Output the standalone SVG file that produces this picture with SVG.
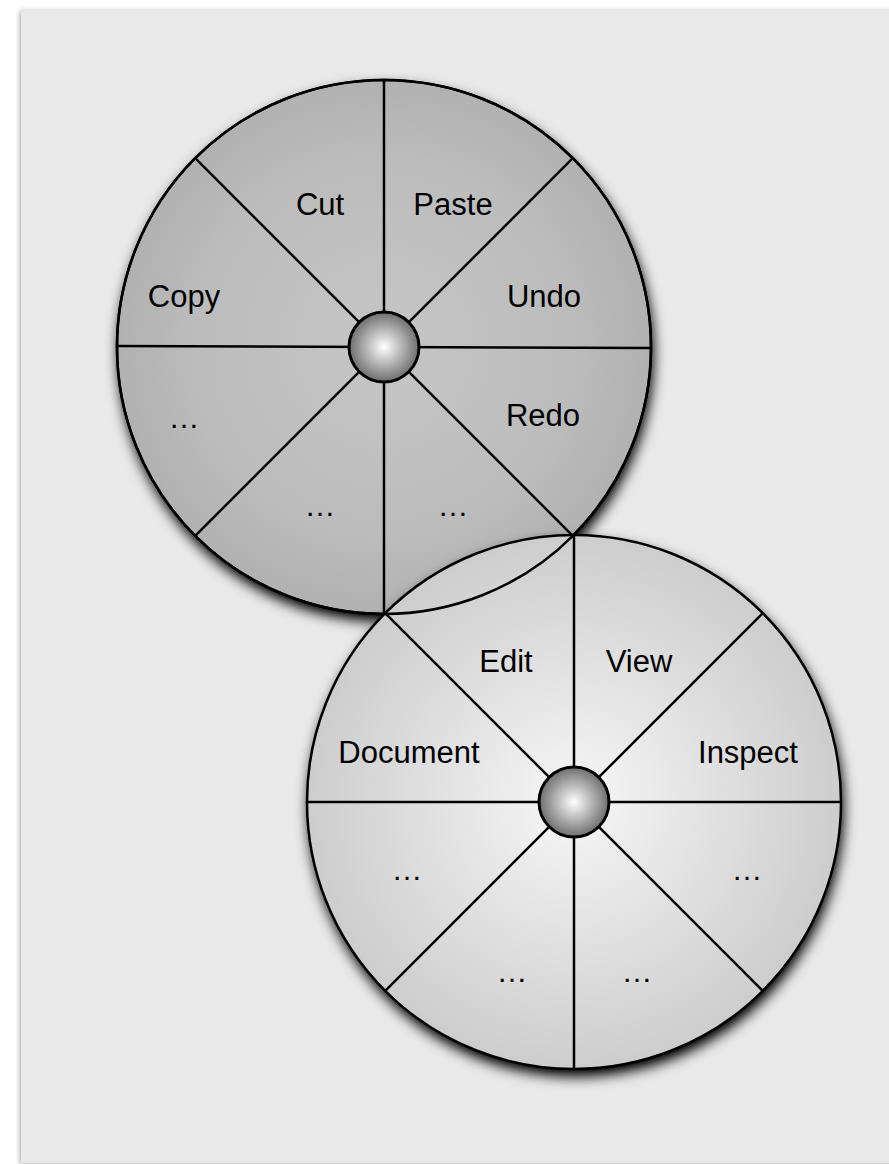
<svg xmlns="http://www.w3.org/2000/svg" width="889" height="1164" viewBox="0 0 889 1164">
  <style>
    .lbl { font-family: "Liberation Sans", Arial, Helvetica, sans-serif; font-size: 31px; fill: #000; text-anchor: middle; }
    .spoke { stroke: #000; stroke-width: 2.5; fill: none; }
    .rim { stroke: #000; stroke-width: 2.5; fill: none; }
    .hub { stroke: #000; stroke-width: 3; fill: url(#hubGrad); }
  </style>
  <defs>
    <filter id="panelShadow" x="-5%" y="-5%" width="110%" height="110%">
      <feDropShadow dx="-1" dy="1" stdDeviation="2.5" flood-color="#000" flood-opacity="0.35"/>
    </filter>
    <filter id="wheelShadow" x="-20%" y="-20%" width="140%" height="140%">
      <feGaussianBlur in="SourceAlpha" stdDeviation="7"/>
      <feOffset dx="2" dy="7" result="b"/>
      <feComponentTransfer in="b" result="s">
        <feFuncA type="linear" slope="1.1"/>
      </feComponentTransfer>
      <feMerge>
        <feMergeNode in="s"/>
        <feMergeNode in="SourceGraphic"/>
      </feMerge>
    </filter>
    <radialGradient id="topGrad" cx="0.5" cy="0.5" r="0.5">
      <stop offset="0" stop-color="#c6c6c6"/>
      <stop offset="0.7" stop-color="#bcbcbc"/>
      <stop offset="1" stop-color="#b1b1b1"/>
    </radialGradient>
    <radialGradient id="botGrad" cx="0.5" cy="0.5" r="0.5">
      <stop offset="0" stop-color="#f7f7f7"/>
      <stop offset="1" stop-color="#cdcdcd"/>
    </radialGradient>
    <radialGradient id="hubGrad" cx="0.5" cy="0.5" r="0.5">
      <stop offset="0" stop-color="#ffffff"/>
      <stop offset="1" stop-color="#6e6e6e"/>
    </radialGradient>
  </defs>

  <rect width="889" height="1164" fill="#ffffff"/>
  <g id="panel">
    <rect x="21" y="10" width="880" height="1153" fill="#e9e9e9" filter="url(#panelShadow)"/>
  </g>

  <g id="wheel-top">
    <circle cx="384" cy="347" r="267" fill="url(#topGrad)" filter="url(#wheelShadow)"/>
    <g id="wheel-top-spokes">
      <line class="spoke" x1="117" y1="346" x2="651" y2="348"/>
      <line class="spoke" x1="384" y1="80" x2="384" y2="614"/>
      <line class="spoke" x1="195.2" y1="158.2" x2="572.8" y2="535.8"/>
      <line class="spoke" x1="572.8" y1="158.2" x2="195.2" y2="535.8"/>
    </g>
    <circle class="rim" cx="384" cy="347" r="267"/>
    <circle id="hub-top" class="hub" cx="384" cy="347" r="35"/>
    <g id="labels-top">
      <text class="lbl" x="320" y="215">Cut</text>
      <text class="lbl" x="453" y="215">Paste</text>
      <text class="lbl" x="184" y="307">Copy</text>
      <text class="lbl" x="544" y="307">Undo</text>
      <text class="lbl" x="184" y="428">…</text>
      <text class="lbl" x="543" y="426">Redo</text>
      <text class="lbl" x="320" y="516">…</text>
      <text class="lbl" x="453" y="516">…</text>
    </g>
  </g>

  <g id="wheel-bottom">
    <circle cx="574" cy="802" r="267" fill="url(#botGrad)" filter="url(#wheelShadow)"/>
    <circle class="rim" cx="384" cy="347" r="267"/>
    <g id="wheel-bottom-spokes">
      <line class="spoke" x1="307" y1="802" x2="841" y2="802"/>
      <line class="spoke" x1="574" y1="535" x2="574" y2="1069"/>
      <line class="spoke" x1="385.2" y1="613.2" x2="762.8" y2="990.8"/>
      <line class="spoke" x1="762.8" y1="613.2" x2="385.2" y2="990.8"/>
    </g>
    <circle class="rim" cx="574" cy="802" r="267"/>
    <circle id="hub-bottom" class="hub" cx="574" cy="802" r="35"/>
    <g id="labels-bottom">
      <text class="lbl" x="506" y="672">Edit</text>
      <text class="lbl" x="639" y="672">View</text>
      <text class="lbl" x="409" y="763">Document</text>
      <text class="lbl" x="748" y="763">Inspect</text>
      <text class="lbl" x="407" y="880">…</text>
      <text class="lbl" x="747" y="880">…</text>
      <text class="lbl" x="512" y="982">…</text>
      <text class="lbl" x="637" y="982">…</text>
    </g>
  </g>
</svg>
